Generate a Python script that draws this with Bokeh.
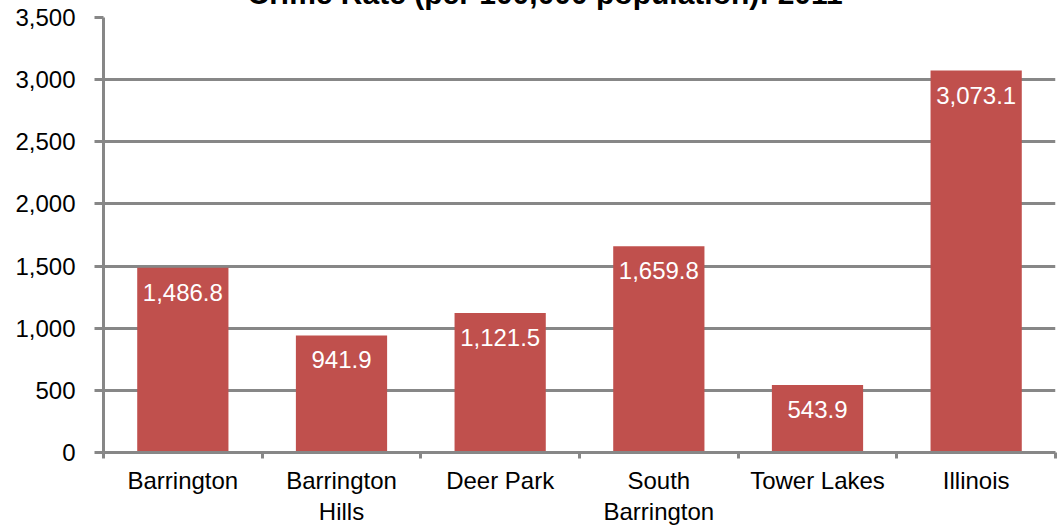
from bokeh.plotting import figure
from bokeh.models import Range1d, FixedTicker, NumeralTickFormatter, ColumnDataSource
from bokeh.embed import file_html
from bokeh.resources import INLINE

# ---- data ----
categories = ["Barrington", "Barrington\nHills", "Deer Park", "South\nBarrington", "Tower Lakes", "Illinois"]
crime_rate = [1486.8, 941.9, 1121.5, 1659.8, 543.9, 3073.1]
y_ticks = [0, 500, 1000, 1500, 2000, 2500, 3000, 3500]
title_text = "Crime Rate (per 100,000 population): 2011"

FONT = "Liberation Sans"
GRAY = "#878787"
BAR = "#C0504D"

xpos = [i + 0.5 for i in range(len(categories))]
labels = [f"{v:,.1f}" for v in crime_rate]
src = ColumnDataSource(dict(x=xpos, y=crime_rate, lab=labels))

p = figure(width=1057, height=560, output_backend="svg", toolbar_location=None,
           x_range=Range1d(0, len(categories)), y_range=Range1d(0, 3500),
           title=title_text, min_border_left=103, min_border_right=2,
           min_border_top=38, min_border_bottom=70)
p.margin = (-33, 0, 0, 0)

p.title.text_font = FONT
p.title.text_font_size = "30px"
p.title.text_font_style = "bold"
p.title.align = "left"
p.title.offset = 144
p.title.standoff = 15
p.title.text_color = "black"

p.outline_line_color = None
p.background_fill_color = "white"
p.border_fill_color = "white"

p.vbar(x="x", top="y", width=0.575, bottom=0, source=src, fill_color=BAR, line_color=None)
p.text(x="x", y="y", text="lab", source=src, text_color="white", text_align="center",
       text_baseline="top", y_offset=16, text_font_size="24px",
       text_font={"value": FONT})

# x axis
xa = p.xaxis[0]
xa.ticker = FixedTicker(ticks=xpos, minor_ticks=list(range(len(categories) + 1)))
xa.major_label_overrides = {x: c for x, c in zip(xpos, categories)}
xa.axis_line_color = GRAY
xa.axis_line_width = 3
xa.major_tick_out = 0
xa.major_tick_in = 0
xa.major_tick_line_color = None
xa.minor_tick_out = 6
xa.minor_tick_in = 0
xa.minor_tick_line_color = GRAY
xa.minor_tick_line_width = 3
xa.major_label_text_font = FONT
xa.major_label_text_font_size = "24px"
xa.major_label_text_line_height = 1.15
xa.major_label_text_color = "black"
xa.major_label_standoff = 8

# y axis
ya = p.yaxis[0]
ya.ticker = FixedTicker(ticks=y_ticks)
ya.formatter = NumeralTickFormatter(format="0,0")
ya.axis_line_color = GRAY
ya.axis_line_width = 3
ya.major_tick_out = 9
ya.major_tick_in = 0
ya.major_tick_line_color = GRAY
ya.major_tick_line_width = 3
ya.minor_tick_line_color = None
ya.major_label_text_font = FONT
ya.major_label_text_font_size = "24px"
ya.major_label_text_color = "black"
ya.major_label_standoff = 19

p.xgrid.grid_line_color = None
p.ygrid.grid_line_color = GRAY
p.ygrid.grid_line_width = 3

open("out.html", "w").write(file_html(p, INLINE))
